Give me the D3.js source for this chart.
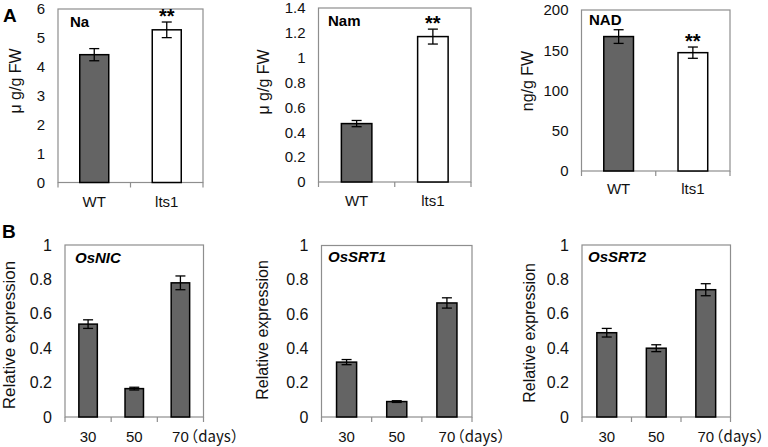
<!DOCTYPE html>
<html><head><meta charset="utf-8">
<script src="https://cdn.jsdelivr.net/npm/d3@7"></script>
<style>
body{margin:0;background:#fff;}
svg{display:block;font-family:"Liberation Sans",Arial,sans-serif;}
.cjk{font-family:"Noto Sans CJK SC","Liberation Sans",sans-serif;font-feature-settings:"halt";}
</style></head>
<body>
<svg id="chart" width="768" height="447"></svg>
<script>
// ---------- DATA ----------
const genotypes = ["WT", "lts1"];
const naMean = [4.42, 5.28];
const naErr = [0.21, 0.27];
const namMean = [0.47, 1.17];
const namErr = [0.025, 0.06];
const nadMean = [167, 147];
const nadErr = [8.5, 7];
const naTicks = [0, 1, 2, 3, 4, 5, 6];
const namTicks = [0, 0.2, 0.4, 0.6, 0.8, 1, 1.2, 1.4];
const nadTicks = [0, 50, 100, 150, 200];
const aSignif = ["", "**"];

const days = ["30", "50", "70"];
const daysUnit = "（days）";
const osNICMean = [0.54, 0.165, 0.78];
const osNICErr = [0.025, 0.008, 0.04];
const osSRT1Mean = [0.32, 0.09, 0.665];
const osSRT1Err = [0.015, 0.005, 0.03];
const osSRT2Mean = [0.49, 0.40, 0.74];
const osSRT2Err = [0.025, 0.02, 0.035];
const exprTicks = [0, 0.2, 0.4, 0.6, 0.8, 1];

// ---------- LAYOUT ----------
const svg = d3.select("#chart");
const DARK = "#646464", FRAME = "#8e8e8e";

const panels = [
  {title:"Na", italic:false, ylab:"μ g/g FW", cats:genotypes, mean:naMean, err:naErr, ticks:naTicks, max:6,
   fills:[DARK,"#fff"], sig:aSignif, x0:58, x1:203, yTop:9, yBot:182.5, labY:206.5, titleX:70, titleY:27, ylabX:15, ylabY:81, ylabSize:16, tickSize:15},
  {title:"Nam", italic:false, ylab:"μ g/g FW", cats:genotypes, mean:namMean, err:namErr, ticks:namTicks, max:1.4,
   fills:[DARK,"#fff"], sig:aSignif, x0:318.5, x1:471, yTop:8, yBot:182, labY:206, titleX:328, titleY:26, ylabX:263, ylabY:82, ylabSize:16, tickSize:15},
  {title:"NAD", italic:false, ylab:"ng/g FW", cats:genotypes, mean:nadMean, err:nadErr, ticks:nadTicks, max:200,
   fills:[DARK,"#fff"], sig:aSignif, x0:581.5, x1:730, yTop:10, yBot:171, labY:193.5, titleX:589, titleY:24.5, ylabX:527, ylabY:81, ylabSize:16, tickSize:15},
  {title:"OsNIC", italic:true, ylab:"Relative expression", cats:days, mean:osNICMean, err:osNICErr, ticks:exprTicks, max:1,
   fills:[DARK,DARK,DARK], sig:null, x0:65, x1:203.5, yTop:245, yBot:417, labY:441.5, titleX:75, titleY:263, ylabX:9, ylabY:335, ylabSize:17, tickSize:16, daysLabel:true},
  {title:"OsSRT1", italic:true, ylab:"Relative expression", cats:days, mean:osSRT1Mean, err:osSRT1Err, ticks:exprTicks, max:1,
   fills:[DARK,DARK,DARK], sig:null, x0:321.5, x1:472, yTop:245.5, yBot:417, labY:441.5, titleX:328, titleY:262, ylabX:262, ylabY:330, ylabSize:16, tickSize:16, daysLabel:true},
  {title:"OsSRT2", italic:true, ylab:"Relative expression", cats:days, mean:osSRT2Mean, err:osSRT2Err, ticks:exprTicks, max:1,
   fills:[DARK,DARK,DARK], sig:null, x0:582, x1:730.5, yTop:245, yBot:417, labY:441.5, titleX:588, titleY:262, ylabX:529, ylabY:333, ylabSize:16, tickSize:16, daysLabel:true}
];

panels.forEach(p => {
  const g = svg.append("g");
  const x = d3.scaleBand().domain(p.cats).range([p.x0, p.x1]).paddingInner(0.6).paddingOuter(0.3);
  const y = d3.scaleLinear().domain([0, p.max]).range([p.yBot, p.yTop]);

  // frame
  g.append("rect").attr("x", p.x0).attr("y", p.yTop).attr("width", p.x1 - p.x0).attr("height", p.yBot - p.yTop)
    .attr("fill", "none").attr("stroke", FRAME).attr("stroke-width", 1.2);

  // y axis labels
  const ya = g.append("g").attr("transform", `translate(${p.x0},0)`)
    .call(d3.axisLeft(y).tickValues(p.ticks).tickSize(0).tickPadding(13).tickFormat(d3.format("~g")));
  ya.select(".domain").remove();
  ya.selectAll("text").attr("font-size", p.tickSize).attr("fill", "#111").attr("font-family", "Liberation Sans, Arial, sans-serif");

  // x axis: boundary ticks
  const step = x.step();
  const bounds = d3.range(p.cats.length + 1).map(i => x.range()[0] + i * step);
  g.selectAll("line.xt").data(bounds).enter().append("line")
    .attr("x1", d => d).attr("x2", d => d).attr("y1", p.yBot).attr("y2", p.yBot + 5)
    .attr("stroke", FRAME).attr("stroke-width", 1.2);

  p.cats.forEach((c, i) => {
    const cx = x(c) + x.bandwidth() / 2;
    const last = p.daysLabel && i === p.cats.length - 1;
    const t = g.append("text").attr("y", p.labY).attr("font-size", 15).attr("fill", "#111");
    if (!last) {
      t.attr("x", cx).attr("text-anchor", "middle").text(c);
    } else {
      t.append("tspan").text(c);
      const w = t.node().getComputedTextLength();
      t.attr("x", cx - w / 2).attr("text-anchor", "start");
      t.append("tspan").attr("class", "cjk").attr("dx", 2).text(daysUnit);
    }
  });

  // bars
  g.selectAll("rect.bar").data(p.mean).enter().append("rect")
    .attr("x", (d, i) => x(p.cats[i])).attr("width", x.bandwidth())
    .attr("y", d => y(d)).attr("height", d => p.yBot - y(d))
    .attr("fill", (d, i) => p.fills[i]).attr("stroke", "#000").attr("stroke-width", 1.5);

  // error bars
  p.mean.forEach((m, i) => {
    const cx = x(p.cats[i]) + x.bandwidth() / 2, e = p.err[i];
    const eg = g.append("g").attr("stroke", "#000").attr("stroke-width", 1.3);
    eg.append("line").attr("x1", cx).attr("x2", cx).attr("y1", y(m - e)).attr("y2", y(m + e));
    eg.append("line").attr("x1", cx - 5).attr("x2", cx + 5).attr("y1", y(m - e)).attr("y2", y(m - e));
    eg.append("line").attr("x1", cx - 5).attr("x2", cx + 5).attr("y1", y(m + e)).attr("y2", y(m + e));
    if (p.sig && p.sig[i]) {
      g.append("text").attr("x", cx).attr("y", y(m + e) + 1).attr("text-anchor", "middle")
        .attr("font-size", 20).attr("font-weight", "bold").attr("fill", "#000").text(p.sig[i]);
    }
  });

  // panel title
  g.append("text").attr("x", p.titleX).attr("y", p.titleY).attr("font-size", 15).attr("font-weight", "bold")
    .attr("font-style", p.italic ? "italic" : "normal").attr("fill", "#000").text(p.title);

  // y label
  g.append("text").attr("transform", `translate(${p.ylabX},${p.ylabY}) rotate(-90)`)
    .attr("text-anchor", "middle").attr("dy", "0.35em").attr("font-size", p.ylabSize).attr("fill", "#111").text(p.ylab);
});

// panel letters
svg.append("text").attr("x", 3).attr("y", 22).attr("font-size", 19).attr("font-weight", "bold").text("A");
svg.append("text").attr("x", 2).attr("y", 238).attr("font-size", 19).attr("font-weight", "bold").text("B");
</script>
</body></html>
